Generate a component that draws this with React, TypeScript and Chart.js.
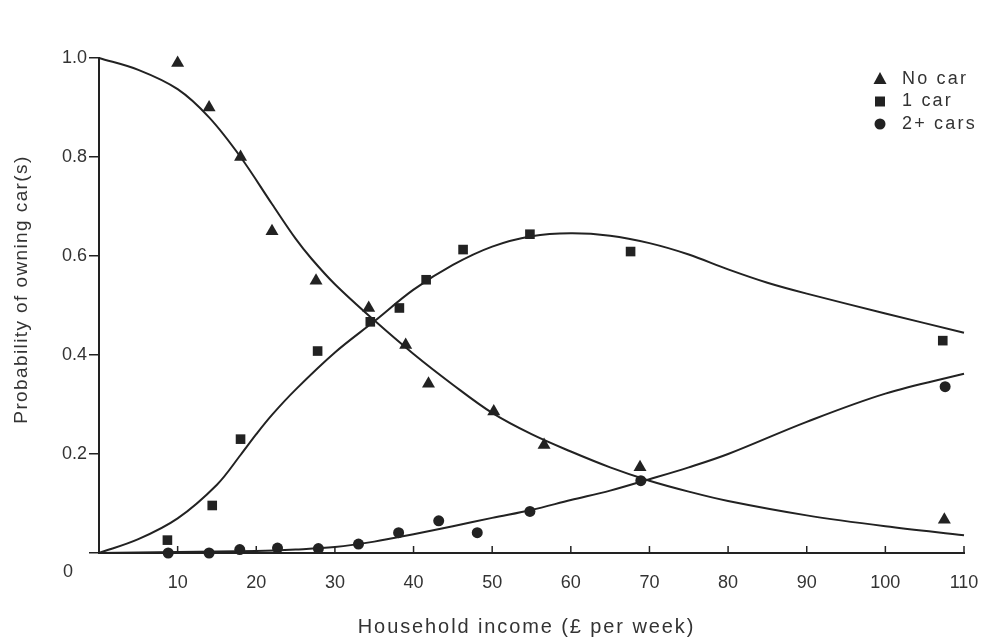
import React, { useEffect, useRef } from "react";
import { Chart, registerables } from "chart.js";

Chart.register(...registerables);

// ---- data ----
const incomeTicks = [0, 10, 20, 30, 40, 50, 60, 70, 80, 90, 100, 110];
const probTicks = [0, 0.2, 0.4, 0.6, 0.8, 1.0];

const noCarIncome = [10, 14, 18, 22, 27.6, 34.3, 39, 41.9, 50.2, 56.6, 68.8, 107.5];
const noCarProb = [0.99, 0.9, 0.8, 0.65, 0.55, 0.495, 0.42, 0.342, 0.286, 0.218, 0.173, 0.067];

const oneCarIncome = [8.7, 14.4, 18.0, 27.8, 34.5, 38.2, 41.6, 46.3, 54.8, 67.6, 107.3];
const oneCarProb = [0.026, 0.096, 0.23, 0.408, 0.467, 0.495, 0.552, 0.613, 0.644, 0.609, 0.429];

const twoCarIncome = [8.8, 14.0, 17.9, 22.7, 27.9, 33.0, 38.1, 43.2, 48.1, 54.8, 68.9, 107.6];
const twoCarProb = [0.0, 0.0, 0.007, 0.01, 0.009, 0.018, 0.041, 0.065, 0.041, 0.084, 0.146, 0.336];

const noCarFitIncome = [0, 5, 10, 14, 18, 22, 25, 27, 30, 35, 40, 45, 50, 55, 60, 65, 70, 75, 80, 90, 100, 110];
const noCarFit = [1.0, 0.976, 0.937, 0.88, 0.8, 0.705, 0.635, 0.595, 0.543, 0.47, 0.402, 0.34, 0.283, 0.24, 0.205, 0.173, 0.146, 0.124, 0.105, 0.076, 0.054, 0.036];

const oneCarFitIncome = [0, 5, 10, 15, 18, 20, 22, 25, 30, 35, 40, 45, 50, 55, 60, 65, 70, 75, 80, 85, 90, 100, 110];
const oneCarFit = [0, 0.028, 0.07, 0.138, 0.198, 0.24, 0.279, 0.33, 0.405, 0.468, 0.532, 0.582, 0.619, 0.64, 0.646, 0.641, 0.626, 0.603, 0.573, 0.546, 0.524, 0.484, 0.445];

const twoCarFitIncome = [0, 10, 20, 25, 30, 35, 40, 45, 50, 55, 60, 65, 70, 75, 80, 90, 100, 110];
const twoCarFit = [0, 0.002, 0.004, 0.007, 0.012, 0.023, 0.038, 0.054, 0.071, 0.087, 0.107, 0.126, 0.149, 0.173, 0.2, 0.265, 0.322, 0.362];

const seriesNames = ["No car", "1 car", "2+ cars"];
const xTitle = "Household income (£ per week)";
const yTitle = "Probability of owning car(s)";

const INK = "#222222";
const TEXT = "#333333";
const FONT = '"Liberation Sans", Arial, Helvetica, sans-serif';

const zip = (xs: number[], ys: number[]) => xs.map((x, i) => ({ x, y: ys[i] }));

function drawMarker(ctx: CanvasRenderingContext2D, kind: number, cx: number, cy: number) {
  ctx.beginPath();
  if (kind === 0) {
    ctx.moveTo(cx, cy - 7);
    ctx.lineTo(cx + 6.5, cy + 5);
    ctx.lineTo(cx - 6.5, cy + 5);
    ctx.closePath();
  } else if (kind === 1) {
    ctx.rect(cx - 5, cy - 5, 10, 10);
  } else {
    ctx.arc(cx, cy, 5.5, 0, Math.PI * 2);
  }
  ctx.fill();
}

const extrasPlugin = {
  id: "extras",
  afterDraw(chart: any) {
    const { ctx, scales } = chart;
    const x = scales.x;
    const y = scales.y;
    ctx.save();
    // inside tick marks on x axis
    ctx.strokeStyle = INK;
    ctx.lineWidth = 1.5;
    incomeTicks.forEach((v) => {
      if (v === 0) return;
      const px = x.getPixelForValue(v);
      ctx.beginPath();
      ctx.moveTo(px, y.bottom);
      ctx.lineTo(px, y.bottom - 7);
      ctx.stroke();
    });
    // origin "0" label
    ctx.fillStyle = TEXT;
    ctx.font = `18px ${FONT}`;
    ctx.textAlign = "center";
    ctx.textBaseline = "middle";
    ctx.fillText("0", x.left - 31, y.bottom + 19);

    // axis titles (with wide tracking, as in the print)
    (ctx as any).letterSpacing = "1.9px";
    ctx.font = `20px ${FONT}`;
    ctx.textBaseline = "alphabetic";
    ctx.fillText(xTitle, (x.left + x.right) / 2 - 5, 633);

    ctx.save();
    (ctx as any).letterSpacing = "1.4px";
    ctx.font = `19px ${FONT}`;
    ctx.translate(27, (y.top + y.bottom) / 2 - 16);
    ctx.rotate(-Math.PI / 2);
    ctx.textBaseline = "alphabetic";
    ctx.fillText(yTitle, 0, 0);
    ctx.restore();

    // legend
    (ctx as any).letterSpacing = "2.2px";
    ctx.textAlign = "left";
    ctx.textBaseline = "middle";
    ctx.font = `18px ${FONT}`;
    const lx = x.right - 84;
    const ly = y.top + 21;
    seriesNames.forEach((name, i) => {
      ctx.fillStyle = INK;
      drawMarker(ctx, i, lx, ly + i * 22.5);
      ctx.fillStyle = TEXT;
      ctx.fillText(name, lx + 22, ly + i * 22.5);
    });
    ctx.restore();
  },
};

export default function App() {
  const canvasRef = useRef<HTMLCanvasElement | null>(null);

  useEffect(() => {
    const canvas = canvasRef.current;
    if (!canvas) return;
    const pointCommon = {
      showLine: false,
      backgroundColor: INK,
      borderColor: INK,
      borderWidth: 0,
      clip: false as any,
    };
    const lineCommon = {
      showLine: true,
      pointRadius: 0,
      borderColor: INK,
      borderWidth: 2,
      tension: 0.35,
      fill: false,
      clip: false as any,
    };
    const chart = new Chart(canvas, {
      type: "scatter",
      data: {
        datasets: [
          { label: seriesNames[0] + " fit", data: zip(noCarFitIncome, noCarFit), ...lineCommon },
          { label: seriesNames[1] + " fit", data: zip(oneCarFitIncome, oneCarFit), ...lineCommon },
          { label: seriesNames[2] + " fit", data: zip(twoCarFitIncome, twoCarFit), ...lineCommon },
          { label: seriesNames[0], data: zip(noCarIncome, noCarProb), pointStyle: "triangle", pointRadius: 7.5, ...pointCommon },
          { label: seriesNames[1], data: zip(oneCarIncome, oneCarProb), pointStyle: "rect", pointRadius: 6.8, ...pointCommon },
          { label: seriesNames[2], data: zip(twoCarIncome, twoCarProb), pointStyle: "circle", pointRadius: 5.5, ...pointCommon },
        ] as any,
      },
      options: {
        animation: false,
        responsive: true,
        maintainAspectRatio: false,
        layout: { padding: { left: 0, top: 58, right: 22, bottom: 0 } },
        plugins: {
          legend: { display: false },
          tooltip: { enabled: false },
        },
        scales: {
          x: {
            type: "linear",
            min: 0,
            max: 110,
            afterBuildTicks: (s: any) => {
              s.ticks = incomeTicks.map((v) => ({ value: v }));
            },
            afterFit: (s: any) => {
              s.height = 91;
              s.paddingLeft = 0;
              s.paddingRight = 0;
            },
            grid: { display: true, drawOnChartArea: false, drawTicks: false },
            border: { display: true, color: INK, width: 2 },
            ticks: {
              padding: 19,
              color: TEXT,
              font: { family: FONT, size: 18 },
              maxRotation: 0,
              autoSkip: false,
              callback: (v: any) => (Number(v) === 0 ? "" : String(v)),
            },
            title: { display: false },
          },
          y: {
            type: "linear",
            min: 0,
            max: 1,
            afterBuildTicks: (s: any) => {
              s.ticks = probTicks.map((v) => ({ value: v }));
            },
            afterFit: (s: any) => {
              s.width = 99;
              s.paddingTop = 0;
              s.paddingBottom = 0;
            },
            grid: { display: true, drawOnChartArea: false, drawTicks: true, tickLength: 10, color: INK, lineWidth: 1.5 },
            border: { display: true, color: INK, width: 2 },
            ticks: {
              padding: 2,
              color: TEXT,
              font: { family: FONT, size: 18 },
              callback: (v: any) => (Number(v) === 0 ? "" : Number(v).toFixed(1)),
            },
            title: { display: false },
          },
        },
      },
      plugins: [extrasPlugin],
    });
    return () => chart.destroy();
  }, []);

  return (
    <div style={{ position: "fixed", left: 0, top: 0, width: 986, height: 644, background: "#ffffff" }}>
      <canvas ref={canvasRef} />
    </div>
  );
}
